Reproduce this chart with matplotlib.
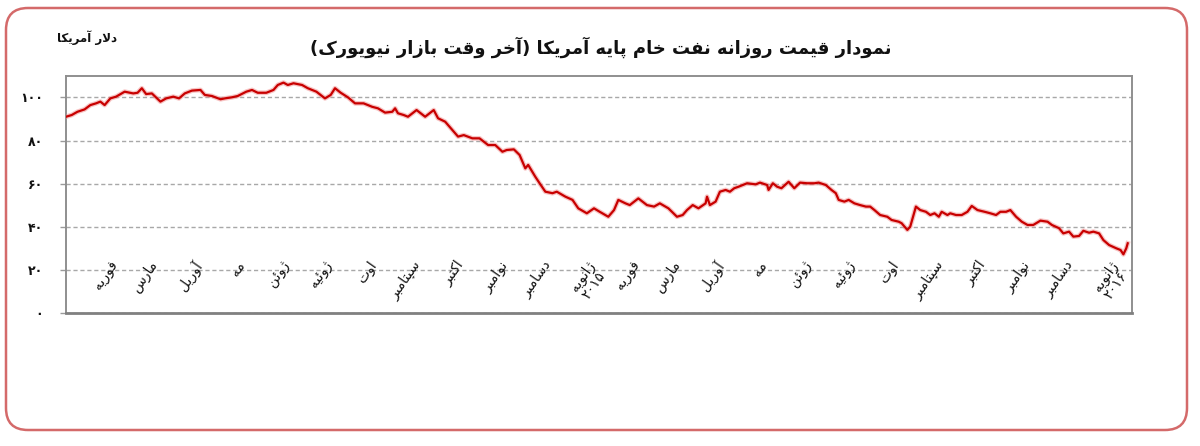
import re
import matplotlib
matplotlib.use("Agg")
import matplotlib.pyplot as plt
import matplotlib.patches as mpatches
import pandas as pd

# ---------------- data ----------------
title = "نمودار قیمت روزانه نفت خام پایه آمریکا (آخر وقت بازار نیویورک)"
unit_label = "دلار آمریکا"

month_labels = ["فوریه", "مارس", "آوریل", "مه", "ژوئن", "ژوئیه", "اوت", "سپتامبر",
                "اکتبر", "نوامبر", "دسامبر", "ژانویه\n۲۰۱۵",
                "فوریه", "مارس", "آوریل", "مه", "ژوئن", "ژوئیه", "اوت", "سپتامبر",
                "اکتبر", "نوامبر", "دسامبر", "ژانویه\n۲۰۱۶"]
month_starts = pd.date_range("2014-02-01", periods=24, freq="MS")

ytick_values = [0, 20, 40, 60, 80, 100]
ytick_labels = ["۰", "۲۰", "۴۰", "۶۰", "۸۰", "۱۰۰"]

dates = [
    "2014-01-13", "2014-01-17", "2014-01-21", "2014-01-26", "2014-01-30", "2014-02-03",
    "2014-02-06", "2014-02-09", "2014-02-13", "2014-02-17", "2014-02-23", "2014-03-01",
    "2014-03-04", "2014-03-07", "2014-03-10", "2014-03-14", "2014-03-20", "2014-03-24",
    "2014-03-29", "2014-04-02", "2014-04-06", "2014-04-11", "2014-04-17", "2014-04-20",
    "2014-04-25", "2014-05-01", "2014-05-04", "2014-05-09", "2014-05-13", "2014-05-19",
    "2014-05-23", "2014-05-27", "2014-06-02", "2014-06-07", "2014-06-10", "2014-06-14",
    "2014-06-17", "2014-06-21", "2014-06-27", "2014-07-01", "2014-07-07", "2014-07-13",
    "2014-07-17", "2014-07-20", "2014-07-24", "2014-07-29", "2014-08-03", "2014-08-09",
    "2014-08-15", "2014-08-19", "2014-08-24", "2014-08-29", "2014-08-31", "2014-09-02",
    "2014-09-06",
    "2014-09-09", "2014-09-15", "2014-09-21", "2014-09-27", "2014-09-30", "2014-10-05",
    "2014-10-10", "2014-10-14", "2014-10-18", "2014-10-24", "2014-10-29", "2014-11-04",
    "2014-11-09", "2014-11-14", "2014-11-17", "2014-11-22", "2014-11-26", "2014-11-30",
    "2014-12-02", "2014-12-07", "2014-12-10", "2014-12-14", "2014-12-19", "2014-12-22",
    "2014-12-28", "2015-01-02", "2015-01-06", "2015-01-12", "2015-01-17", "2015-01-21",
    "2015-01-27", "2015-01-31", "2015-02-03", "2015-02-08", "2015-02-11", "2015-02-17",
    "2015-02-23", "2015-02-28", "2015-03-04", "2015-03-10", "2015-03-16", "2015-03-20",
    "2015-03-23", "2015-03-27", "2015-03-31",
    "2015-04-05", "2015-04-06", "2015-04-08", "2015-04-12", "2015-04-15", "2015-04-19",
    "2015-04-22", "2015-04-25", "2015-04-28", "2015-05-04", "2015-05-10", "2015-05-13",
    "2015-05-18", "2015-05-19", "2015-05-22", "2015-05-25", "2015-05-28", "2015-06-02",
    "2015-06-06", "2015-06-10", "2015-06-15", "2015-06-20", "2015-06-23", "2015-06-28",
    "2015-07-02", "2015-07-05", "2015-07-07", "2015-07-11", "2015-07-14", "2015-07-18",
    "2015-07-22", "2015-07-26", "2015-07-29", "2015-08-01", "2015-08-05", "2015-08-10",
    "2015-08-13", "2015-08-18", "2015-08-20", "2015-08-24", "2015-08-26", "2015-08-30",
    "2015-09-02", "2015-09-06", "2015-09-09", "2015-09-12", "2015-09-15", "2015-09-17",
    "2015-09-21", "2015-09-23", "2015-09-27", "2015-10-01", "2015-10-05", "2015-10-08",
    "2015-10-12", "2015-10-17", "2015-10-21", "2015-10-25", "2015-10-28", "2015-11-01",
    "2015-11-04", "2015-11-08", "2015-11-12", "2015-11-16", "2015-11-20",
    "2015-11-25", "2015-11-30", "2015-12-03", "2015-12-08", "2015-12-11", "2015-12-15",
    "2015-12-18", "2015-12-22", "2015-12-25", "2015-12-29", "2016-01-01", "2016-01-05",
    "2016-01-08", "2016-01-12", "2016-01-17", "2016-01-20", "2016-01-22", "2016-01-24",
    "2016-01-25",
]

prices = [
    91.0, 91.8, 93.3, 94.4, 96.4, 97.2, 98.0, 96.4, 99.5, 100.3, 102.6, 101.8,
    102.1, 104.2, 101.5, 101.8, 98.0, 99.5, 100.3, 99.5, 101.8, 103.1, 103.4, 101.1,
    100.6, 99.1, 99.5, 100.0, 100.6, 102.6, 103.4, 102.1, 102.1, 103.4, 105.7, 106.8,
    105.7, 106.5, 105.7, 104.2, 102.6, 99.5, 101.1, 104.2, 102.1, 100.0, 97.2, 97.2,
    95.6, 94.9, 92.9, 93.3, 94.9, 92.6, 91.8,
    91.0, 94.1, 91.0, 94.1, 90.3, 88.7, 84.9, 81.8, 82.5, 81.0, 81.0, 77.9,
    77.9, 74.8, 75.6, 75.9, 73.3, 67.1, 68.7, 63.2, 60.2, 56.3, 55.6, 56.3,
    54.0, 52.5, 48.6, 46.3, 48.6, 47.0, 44.7, 47.8, 52.5, 50.9, 50.1, 53.2,
    50.1, 49.4, 50.9, 48.6, 44.7, 45.5, 47.8, 50.1, 48.6,
    50.9, 54.0, 50.1, 51.7, 56.3, 57.1, 56.3, 57.9, 58.6, 60.2, 59.7, 60.5,
    59.4, 57.1, 60.2, 58.6, 57.9, 60.9, 57.9, 60.5, 60.2, 60.2, 60.5, 59.4,
    57.1, 55.6, 52.5, 51.7, 52.5, 50.9, 50.1, 49.4, 49.4, 47.8, 45.5, 44.7,
    43.2, 42.4, 41.7, 38.6, 40.1, 49.4, 47.8, 47.0, 45.5, 46.3, 44.7, 47.0,
    45.5, 46.3, 45.5, 45.5, 47.0, 49.7, 47.8, 47.0, 46.3, 45.5, 47.0, 47.0,
    47.8, 44.7, 42.4, 40.9, 40.9,
    42.9, 42.4, 40.9, 39.4, 37.0, 37.8, 35.5, 35.8, 38.2, 37.3, 37.8, 37.0,
    33.9, 31.6, 30.1, 29.3, 27.3, 30.1, 32.4,
]

# ---------------- Persian shaping (presentation forms + visual order) ----------------
FORMS = {
    "\u0627": ("\uFE8D", "\uFE8E", None, None),
    "\u0622": ("\uFE81", "\uFE82", None, None),
    "\u0628": ("\uFE8F", "\uFE90", "\uFE91", "\uFE92"),
    "\u067E": ("\uFB56", "\uFB57", "\uFB58", "\uFB59"),
    "\u062A": ("\uFE95", "\uFE96", "\uFE97", "\uFE98"),
    "\u062B": ("\uFE99", "\uFE9A", "\uFE9B", "\uFE9C"),
    "\u062C": ("\uFE9D", "\uFE9E", "\uFE9F", "\uFEA0"),
    "\u0686": ("\uFB7A", "\uFB7B", "\uFB7C", "\uFB7D"),
    "\u062D": ("\uFEA1", "\uFEA2", "\uFEA3", "\uFEA4"),
    "\u062E": ("\uFEA5", "\uFEA6", "\uFEA7", "\uFEA8"),
    "\u062F": ("\uFEA9", "\uFEAA", None, None),
    "\u0630": ("\uFEAB", "\uFEAC", None, None),
    "\u0631": ("\uFEAD", "\uFEAE", None, None),
    "\u0632": ("\uFEAF", "\uFEB0", None, None),
    "\u0698": ("\uFB8A", "\uFB8B", None, None),
    "\u0633": ("\uFEB1", "\uFEB2", "\uFEB3", "\uFEB4"),
    "\u0634": ("\uFEB5", "\uFEB6", "\uFEB7", "\uFEB8"),
    "\u0635": ("\uFEB9", "\uFEBA", "\uFEBB", "\uFEBC"),
    "\u0636": ("\uFEBD", "\uFEBE", "\uFEBF", "\uFEC0"),
    "\u0637": ("\uFEC1", "\uFEC2", "\uFEC3", "\uFEC4"),
    "\u0638": ("\uFEC5", "\uFEC6", "\uFEC7", "\uFEC8"),
    "\u0639": ("\uFEC9", "\uFECA", "\uFECB", "\uFECC"),
    "\u063A": ("\uFECD", "\uFECE", "\uFECF", "\uFED0"),
    "\u0641": ("\uFED1", "\uFED2", "\uFED3", "\uFED4"),
    "\u0642": ("\uFED5", "\uFED6", "\uFED7", "\uFED8"),
    "\u06A9": ("\uFB8E", "\uFB8F", "\uFB90", "\uFB91"),
    "\u06AF": ("\uFB92", "\uFB93", "\uFB94", "\uFB95"),
    "\u0644": ("\uFEDD", "\uFEDE", "\uFEDF", "\uFEE0"),
    "\u0645": ("\uFEE1", "\uFEE2", "\uFEE3", "\uFEE4"),
    "\u0646": ("\uFEE5", "\uFEE6", "\uFEE7", "\uFEE8"),
    "\u0647": ("\uFEE9", "\uFEEA", "\uFEEB", "\uFEEC"),
    "\u0648": ("\uFEED", "\uFEEE", None, None),
    "\u06CC": ("\uFBFC", "\uFBFD", "\uFBFE", "\uFBFF"),
    "\u0626": ("\uFE89", "\uFE8A", "\uFE8B", "\uFE8C"),
}
LAM_ALEF = {"\u0627": ("\uFEFB", "\uFEFC"), "\u0622": ("\uFEF5", "\uFEF6")}


def _joins_next(c):
    f = FORMS.get(c)
    return f is not None and f[2] is not None


def _shape(s):
    out, i, n = [], 0, len(s)
    while i < n:
        c = s[i]
        if c not in FORMS:
            out.append(c)
            i += 1
            continue
        cp = i > 0 and _joins_next(s[i - 1])
        if c == "\u0644" and i + 1 < n and s[i + 1] in LAM_ALEF:
            out.append(LAM_ALEF[s[i + 1]][1 if cp else 0])
            i += 2
            continue
        cn = _joins_next(c) and i + 1 < n and s[i + 1] in FORMS
        iso, fin, ini, med = FORMS[c]
        out.append(med if (cp and cn) else fin if cp else ini if cn else iso)
        i += 1
    return "".join(out)


def fa(text):
    lines = []
    for line in text.split("\n"):
        v = _shape(line)[::-1]
        v = re.sub(r"[0-9\u06F0-\u06F9]+", lambda m: m.group(0)[::-1], v)
        v = v.translate(str.maketrans("()", ")("))
        lines.append(v)
    return "\n".join(lines)


# ---------------- plot ----------------
plt.rcParams["font.family"] = ["DejaVu Sans"]

W, H = 1200, 446
fig = plt.figure(figsize=(W / 100, H / 100), dpi=100)
fig.patch.set_facecolor("white")

# rounded red frame
frame = mpatches.FancyBboxPatch((6 / 100, 16 / 100), (1187 - 6) / 100, (438 - 16) / 100,
                                boxstyle="round,pad=0,rounding_size=0.22",
                                transform=fig.dpi_scale_trans, fill=False,
                                edgecolor="#d46a6a", linewidth=1.8, zorder=0)
fig.patches.append(frame)

ax = fig.add_axes([66 / W, 1 - 313.3 / H, (1132 - 66) / W, (313.3 - 75.7) / H])
ax.set_facecolor("white")

x = pd.to_datetime(dates)
ax.plot(x, prices, color="#f08a8a", linewidth=3.4, alpha=0.5, solid_joinstyle="round", zorder=3)
ax.plot(x, prices, color="#c80000", linewidth=1.6, solid_joinstyle="round", zorder=4)

ax.set_xlim(pd.Timestamp("2014-01-13"), pd.Timestamp("2016-01-28"))
ax.set_ylim(0, 110)
ax.set_xticks([])
ax.set_yticks(ytick_values)
ax.set_yticklabels([fa(t) for t in ytick_labels], fontsize=9, fontweight="bold", color="#111111")
ax.tick_params(axis="y", length=4.5, width=1, color="#9a9a9a", pad=12)
ax.yaxis.grid(True, linestyle=(0, (3, 2)), color="#a8a8a8", linewidth=1.0)
ax.set_axisbelow(True)

for side in ["top", "right", "left"]:
    ax.spines[side].set_color("#8f8f8f")
    ax.spines[side].set_linewidth(1.4)
ax.spines["bottom"].set_color("#808080")
ax.spines["bottom"].set_linewidth(2.0)

for d, lab in zip(month_starts, month_labels):
    ax.text(d + pd.Timedelta(days=11), 25.5, fa(lab), rotation=55, rotation_mode="anchor",
            ha="right", va="top", multialignment="left", fontsize=10, color="#111111",
            linespacing=1.0, zorder=5)

fig.text(601 / W, 1 - 47 / H, fa(title), ha="center", va="center", fontsize=13,
         fontweight="bold", color="#111111")
fig.text(87 / W, 1 - 38 / H, fa(unit_label), ha="center", va="center", fontsize=8.5,
         fontweight="bold", color="#111111")

fig.savefig("out.png", dpi=100, facecolor="white")
